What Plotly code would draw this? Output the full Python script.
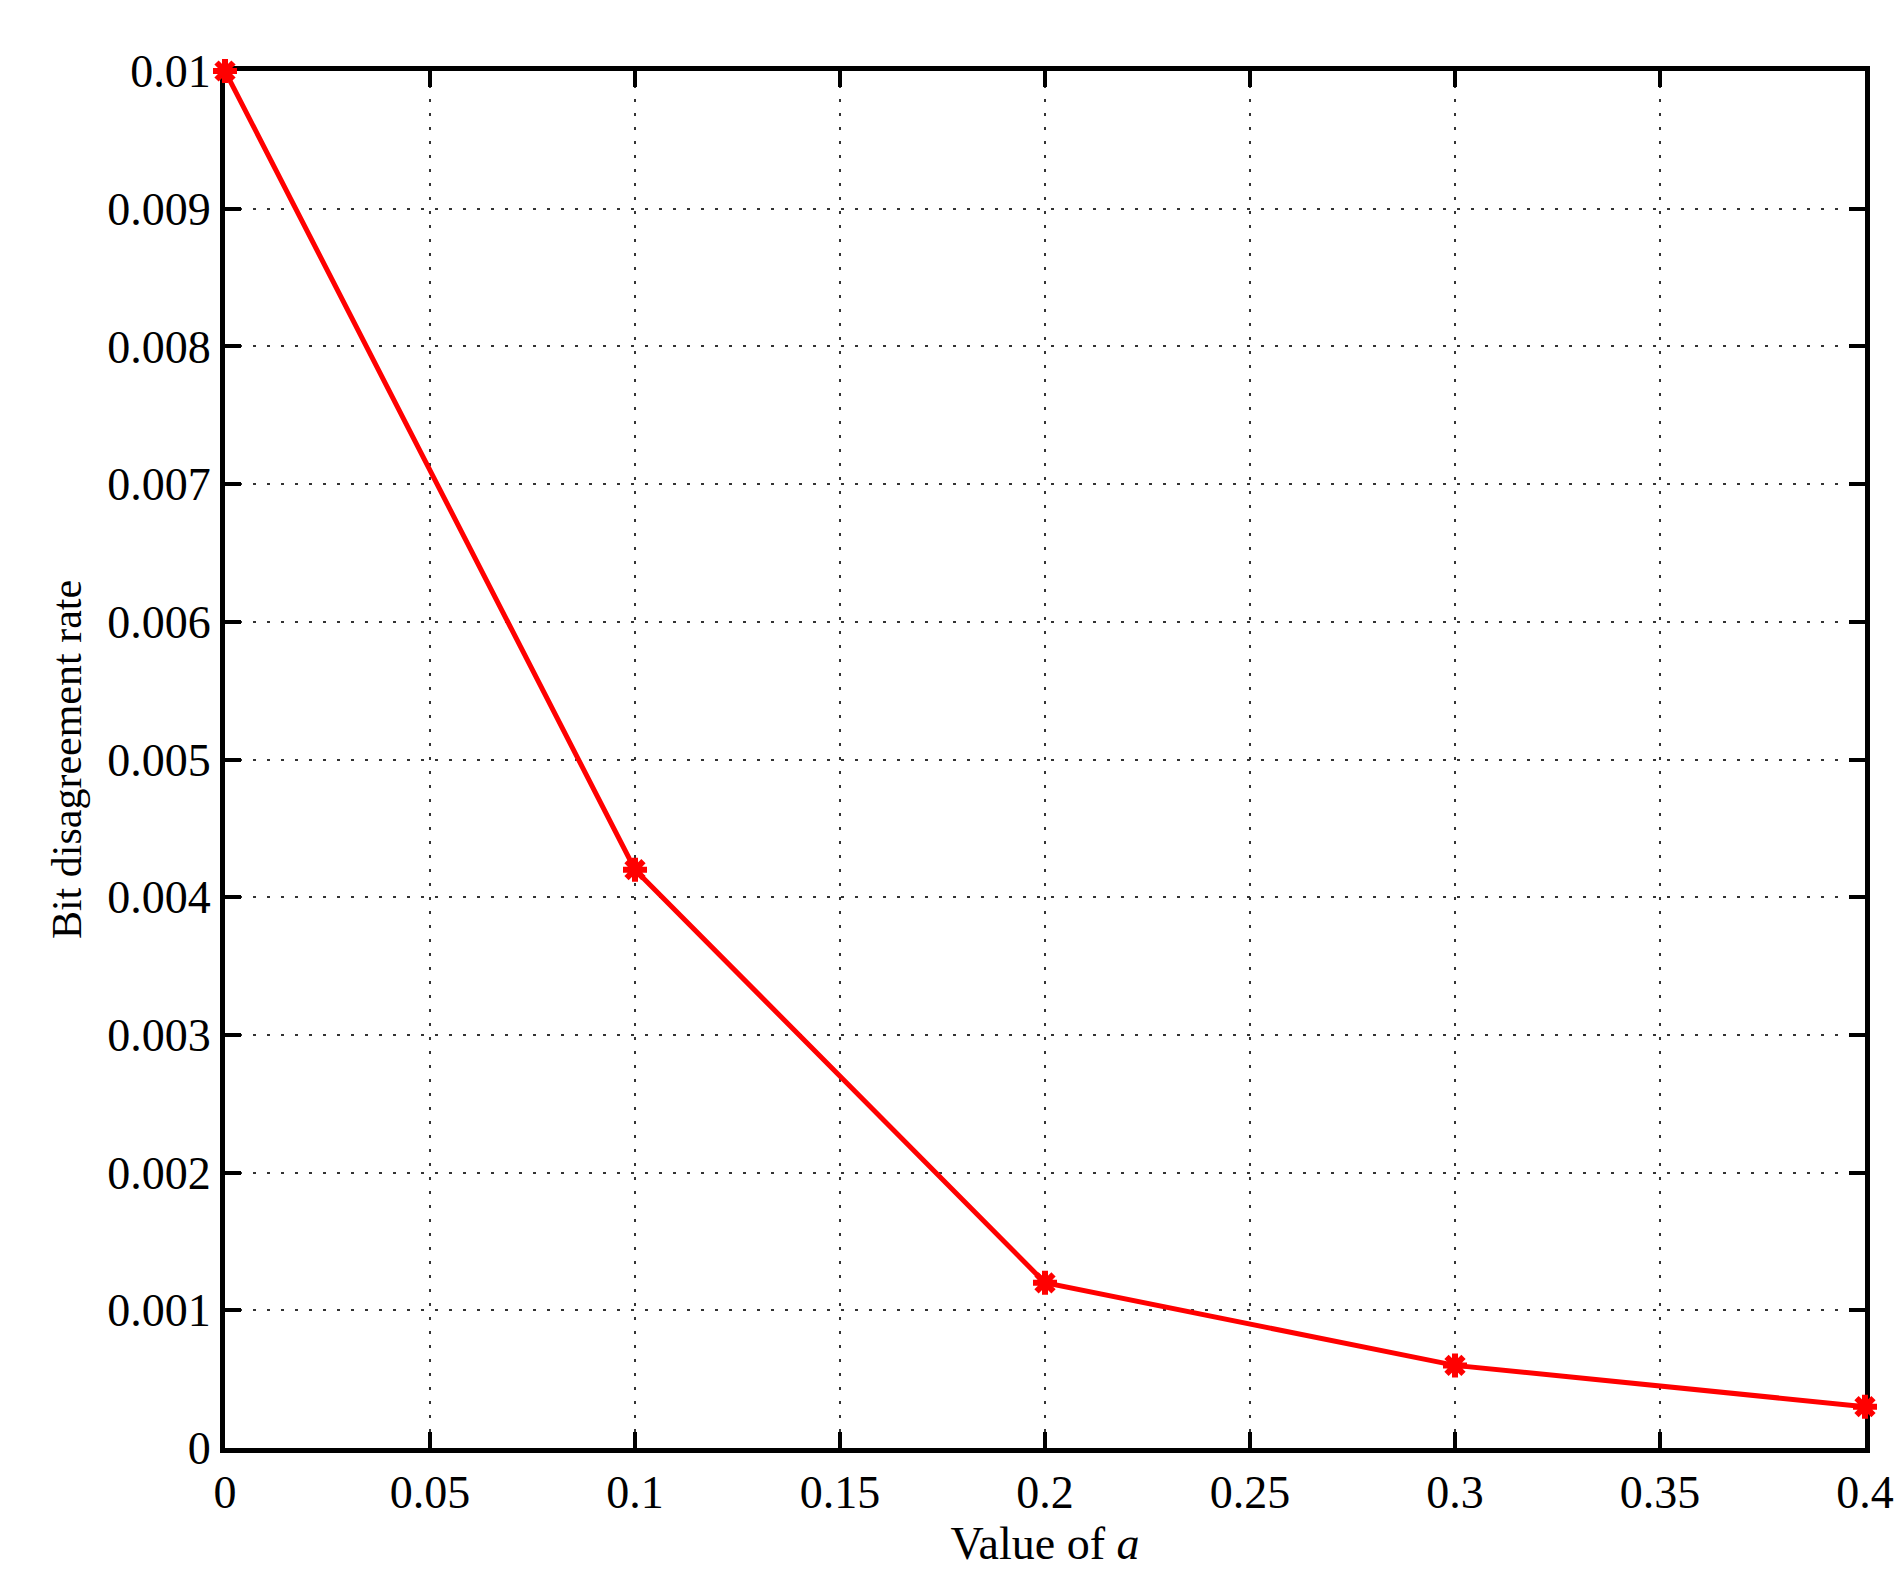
import plotly.graph_objects as go

a_values = [0, 0.1, 0.2, 0.3, 0.4]
bdr = [0.01, 0.0042, 0.0012, 0.0006, 0.0003]
x_ticks = [0, 0.05, 0.1, 0.15, 0.2, 0.25, 0.3, 0.35, 0.4]
y_ticks = [0, 0.001, 0.002, 0.003, 0.004, 0.005, 0.006, 0.007, 0.008, 0.009, 0.01]

fig = go.Figure(go.Scatter(x=a_values, y=bdr, mode="lines+markers", cliponaxis=False,
    line=dict(color="#ff0000", width=5),
    marker=dict(symbol="asterisk", size=20, color="#ff0000", line=dict(color="#ff0000", width=6))))

font = dict(family="Liberation Serif, Times New Roman, serif", size=46, color="black")
axis = dict(showline=True, linecolor="black", linewidth=5, mirror="ticks", ticks="inside",
            ticklen=16, tickwidth=4, tickcolor="black", showgrid=True, gridcolor="#333333",
            griddash="3px,11px", gridwidth=2, zeroline=False, tickfont=font, layer="below traces")
fig.update_xaxes(**axis, range=[0, 0.4], tickvals=x_ticks, ticktext=[f"{v:g}" for v in x_ticks],
                 title=dict(text="Value of <i>a</i>", font=font, standoff=2))
fig.update_yaxes(**axis, range=[0, 0.01], tickvals=y_ticks, ticktext=[f"{v:g}" for v in y_ticks],
                 title=dict(text="Bit disagreement rate", font=dict(family=font["family"], size=42, color="black"), standoff=14))
fig.update_layout(width=1903, height=1576, plot_bgcolor="white", paper_bgcolor="white",
                  showlegend=False, margin=dict(l=217, r=46, t=63, b=136))
fig.write_html("out.html")
